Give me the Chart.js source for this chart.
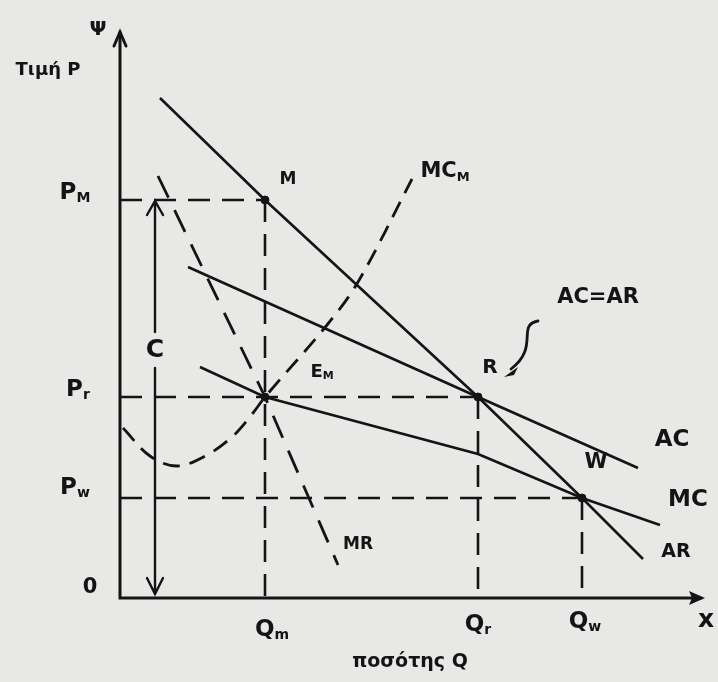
<!DOCTYPE html>
<html>
<head>
<meta charset="utf-8">
<script src="https://cdn.jsdelivr.net/npm/chart.js@4.4.1/dist/chart.umd.min.js"></script>
<style>
  html, body { margin: 0; padding: 0; background: #e8e8e6; }
  #wrap { width: 718px; height: 682px; position: relative; }
</style>
</head>
<body>
<div id="wrap"><canvas id="chart"></canvas></div>
<script>
// --- Data (quantity Q on x, price P on y) ---
const qLevels = [145, 358, 462];          // Qm, Qr, Qw
const pLevels = [398, 201, 100];          // Pm, Pr, Pw

const arQ = [40, 145, 358, 462, 523];     // AR (demand)
const arP = [500, 398, 201, 100, 39];
const mrQ = [38, 145, 218];               // MR
const mrP = [422, 201, 33];
const acQ = [68, 358, 518];               // AC
const acP = [331, 201, 130];
const mcQ = [80, 145, 358, 462, 540];     // MC
const mcP = [231, 201, 144, 100, 73];
const mcmQ = [3, 30, 57, 87, 113, 133, 145, 207, 238, 292];   // MC_M
const mcmP = [170, 142, 132, 143, 162, 185, 201, 273, 316, 419];

const dotQ = [145, 145, 358, 462];        // M, E_M, R, W
const dotP = [398, 201, 201, 100];

const INK = '#141414';
const xy = (qs, ps) => qs.map((q, i) => ({ x: q, y: ps[i] }));

function line(data, dash, width) {
    return {
        data: data,
        showLine: true,
        borderColor: INK,
        borderWidth: width || 2.6,
        borderDash: dash || [],
        pointRadius: 0,
        fill: false
    };
}

const datasets = [
    line(xy(arQ, arP)),
    line(xy(acQ, acP)),
    line(xy(mcQ, mcP)),
    line(xy(mrQ, mrP), [24, 14], 2.8),
    Object.assign(line(xy(mcmQ, mcmP), [17, 10], 2.8), { tension: 0.35 })
];

// dashed guide lines from the axes to M, R, W
qLevels.forEach((q, i) => {
    const p = pLevels[i];
    datasets.push(line([{ x: 0, y: p }, { x: q, y: p }], [22, 12], 2.4));
    datasets.push(line([{ x: q, y: p }, { x: q, y: 0 }], [22, 12], 2.6));
});

datasets.push({
    data: xy(dotQ, dotP),
    showLine: false,
    pointRadius: 4,
    pointBackgroundColor: INK,
    pointBorderColor: INK
});

// text labels, in data units
const labels = [
    { t: 'Ψ', x: -22, y: 568, size: 20 },
    { t: 'Τιμή P', x: -72, y: 528, size: 18 },
    { t: 'P', s: 'M', x: -45, y: 405, size: 23 },
    { t: 'P', s: 'r', x: -42, y: 208, size: 23 },
    { t: 'P', s: 'w', x: -45, y: 110, size: 23 },
    { t: '0', x: -30, y: 10, size: 21 },
    { t: 'M', x: 168, y: 418, size: 17 },
    { t: 'E', s: 'M', x: 202, y: 226, size: 18 },
    { t: 'R', x: 370, y: 230, size: 20 },
    { t: 'W', x: 476, y: 135, size: 21 },
    { t: 'MC', s: 'M', x: 325, y: 426, size: 21 },
    { t: 'AC=AR', x: 478, y: 300, size: 21 },
    { t: 'AC', x: 552, y: 158, size: 23 },
    { t: 'MC', x: 568, y: 98, size: 23 },
    { t: 'AR', x: 556, y: 46, size: 19 },
    { t: 'MR', x: 238, y: 53, size: 17 },
    { t: 'C', x: 35, y: 248, size: 25 },
    { t: 'Q', s: 'm', x: 152, y: -32, size: 23 },
    { t: 'Q', s: 'r', x: 358, y: -27, size: 23 },
    { t: 'Q', s: 'w', x: 465, y: -24, size: 23 },
    { t: 'x', x: 586, y: -22, size: 25 },
    { t: 'ποσότης Q', x: 290, y: -64, size: 19 }
];

const FONT = 'bold ';
const FAMILY = '"DejaVu Sans", "Noto Sans", sans-serif';

function drawLabel(ctx, lb, px, py) {
    ctx.textBaseline = 'middle';
    ctx.textAlign = 'left';
    const subSize = Math.round(lb.size * 0.62);
    ctx.font = FONT + lb.size + 'px ' + FAMILY;
    const w1 = ctx.measureText(lb.t).width;
    let w2 = 0;
    if (lb.s) {
        ctx.font = FONT + subSize + 'px ' + FAMILY;
        w2 = ctx.measureText(lb.s).width;
    }
    const x0 = px - (w1 + w2) / 2;
    ctx.font = FONT + lb.size + 'px ' + FAMILY;
    ctx.fillText(lb.t, x0, py);
    if (lb.s) {
        ctx.font = FONT + subSize + 'px ' + FAMILY;
        ctx.fillText(lb.s, x0 + w1, py + lb.size * 0.25);
    }
}

const sketchPlugin = {
    id: 'sketch',
    beforeDraw(chart) {
        const ctx = chart.ctx;
        ctx.save();
        ctx.fillStyle = '#e8e8e6';
        ctx.fillRect(0, 0, chart.width, chart.height);
        ctx.restore();
    },
    beforeDatasetsDraw(chart) {
        const ctx = chart.ctx;
        const xs = chart.scales.x, ys = chart.scales.y;
        const ox = xs.getPixelForValue(0), oy = ys.getPixelForValue(0);
        const topY = ys.getPixelForValue(566), rightX = xs.getPixelForValue(585);
        ctx.save();
        ctx.strokeStyle = INK;
        ctx.fillStyle = INK;
        ctx.lineWidth = 3;
        ctx.lineCap = 'round';
        ctx.beginPath();
        ctx.moveTo(ox, topY);
        ctx.lineTo(ox, oy);
        ctx.lineTo(rightX - 4, oy);
        ctx.stroke();
        // y arrow (open)
        ctx.beginPath();
        ctx.moveTo(ox - 6, topY + 14);
        ctx.lineTo(ox, topY);
        ctx.lineTo(ox + 6, topY + 14);
        ctx.stroke();
        // x arrow (filled)
        ctx.beginPath();
        ctx.moveTo(rightX, oy);
        ctx.lineTo(rightX - 16, oy - 7);
        ctx.lineTo(rightX - 13, oy);
        ctx.lineTo(rightX - 16, oy + 7);
        ctx.closePath();
        ctx.fill();

        // double arrow "C" between Pm and 0
        const cx = xs.getPixelForValue(35);
        const cTop = ys.getPixelForValue(pLevels[0]) + 1;
        const cBot = ys.getPixelForValue(4);
        ctx.lineWidth = 2.4;
        ctx.beginPath();
        ctx.moveTo(cx, cTop);
        ctx.lineTo(cx, ys.getPixelForValue(266));
        ctx.moveTo(cx, ys.getPixelForValue(230));
        ctx.lineTo(cx, cBot);
        ctx.moveTo(cx - 8, cTop + 14);
        ctx.lineTo(cx, cTop);
        ctx.lineTo(cx + 8, cTop + 14);
        ctx.moveTo(cx - 8, cBot - 16);
        ctx.lineTo(cx, cBot);
        ctx.lineTo(cx + 8, cBot - 16);
        ctx.stroke();

        // pointer from "AC=AR" to R
        const rx = xs.getPixelForValue(qLevels[1]), ry = ys.getPixelForValue(pLevels[1]);
        ctx.lineWidth = 2.8;
        ctx.beginPath();
        ctx.moveTo(rx + 60, ry - 76);
        ctx.bezierCurveTo(rx + 38, ry - 72, rx + 62, ry - 50, rx + 33, ry - 28);
        ctx.stroke();
        ctx.beginPath();
        ctx.moveTo(rx + 26, ry - 20);
        ctx.lineTo(rx + 40, ry - 30);
        ctx.lineTo(rx + 36, ry - 22);
        ctx.closePath();
        ctx.fill();
        ctx.restore();
    },
    afterDatasetsDraw(chart) {
        const ctx = chart.ctx;
        const xs = chart.scales.x, ys = chart.scales.y;
        ctx.save();
        ctx.fillStyle = INK;
        labels.forEach(lb => drawLabel(ctx, lb, xs.getPixelForValue(lb.x), ys.getPixelForValue(lb.y)));
        ctx.restore();
    }
};

new Chart(document.getElementById('chart'), {
    type: 'scatter',
    data: { datasets: datasets },
    options: {
        responsive: true,
        maintainAspectRatio: false,
        animation: false,
        layout: { padding: { left: 120, right: 13, top: 30, bottom: 84 } },
        scales: {
            x: { type: 'linear', min: 0, max: 585, display: false },
            y: { type: 'linear', min: 0, max: 568, display: false }
        },
        plugins: { legend: { display: false }, tooltip: { enabled: false } },
        elements: { line: { borderCapStyle: 'butt' } }
    },
    plugins: [sketchPlugin]
});
</script>
</body>
</html>
